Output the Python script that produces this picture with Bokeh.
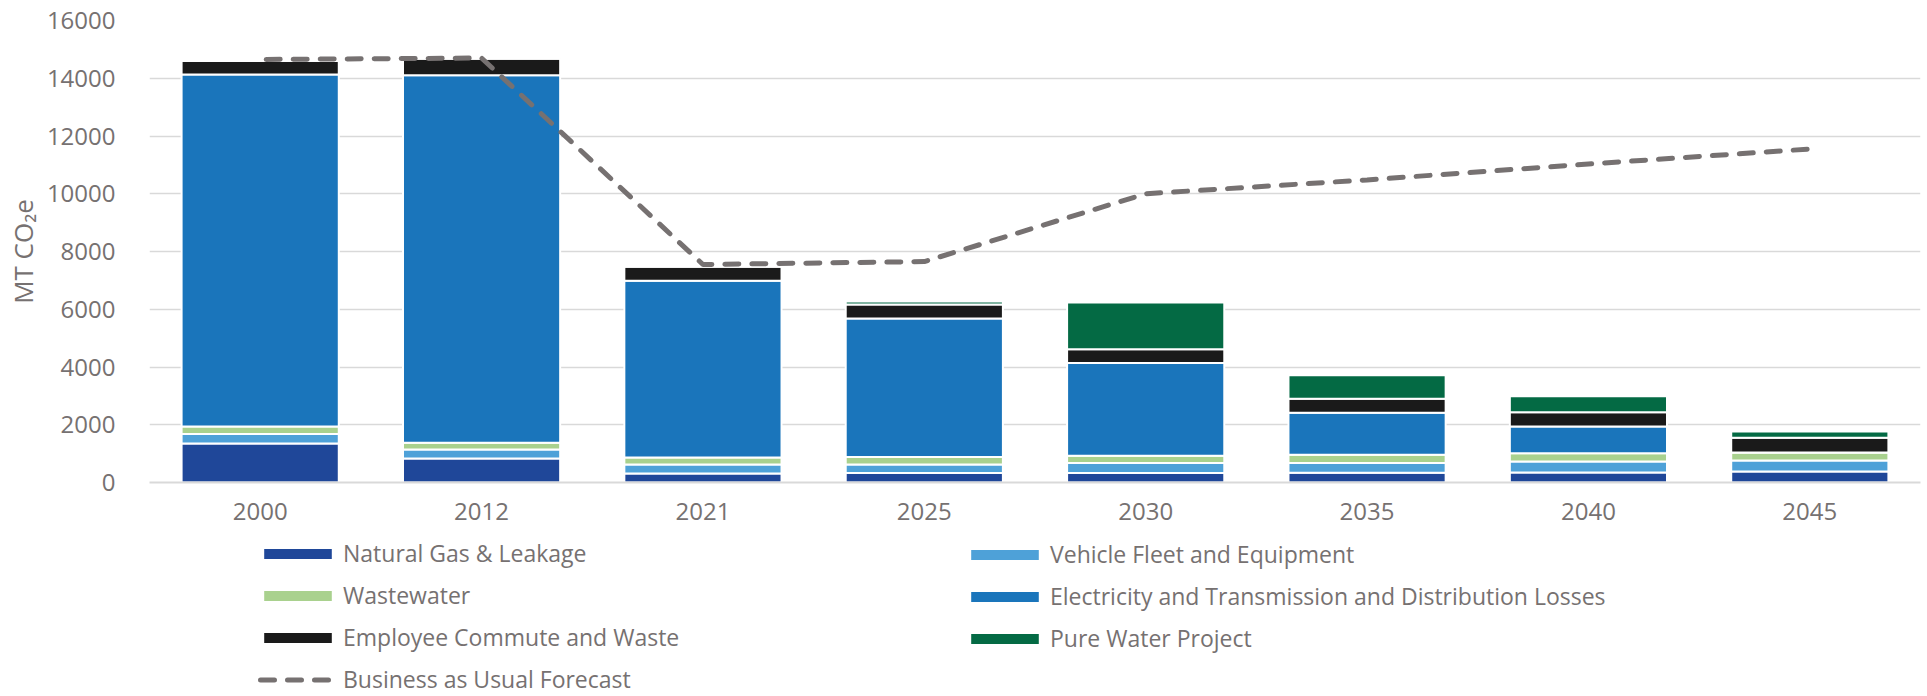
from bokeh.plotting import figure
from bokeh.layouts import column
from bokeh.models import FactorRange, Range1d, Legend, LegendItem, FixedTicker, ColumnDataSource
from bokeh.embed import file_html
from bokeh.resources import INLINE

years = ["2000", "2012", "2021", "2025", "2030", "2035", "2040", "2045"]
natural_gas = [1350, 830, 310, 325, 325, 336, 348, 383]
vehicle_fleet = [330, 315, 312, 300, 347, 336, 382, 382]
wastewater = [260, 231, 243, 255, 256, 290, 279, 278]
electricity = [12187, 12727, 6122, 4800, 3211, 1450, 927, 0]
employee = [474, 568, 485, 487, 475, 487, 499, 511]
pure_water = [0, 0, 0, 104, 1624, 811, 556, 208]
bau_forecast = [14650, 14700, 7550, 7650, 10000, 10480, 11030, 11550]

series_keys = ["natural_gas", "vehicle_fleet", "wastewater", "electricity", "employee", "pure_water"]
series_labels = ["Natural Gas & Leakage", "Vehicle Fleet and Equipment", "Wastewater",
                 "Electricity and Transmission and Distribution Losses",
                 "Employee Commute and Waste", "Pure Water Project"]
bau_label = "Business as Usual Forecast"
series_colors = ["#1f4799", "#4ea1d8", "#a9d18e", "#1a75bb", "#1a1a1a", "#046a44"]
bau_color = "#767171"

FONT = "Open Sans"
TXT = "#767171"
FS_AXIS = "24px"
FS_YLABEL = "26px"
FS_LEG = "23px"

source = ColumnDataSource(data=dict(
    years=years, natural_gas=natural_gas, vehicle_fleet=vehicle_fleet, wastewater=wastewater,
    electricity=electricity, employee=employee, pure_water=pure_water, bau=bau_forecast))

W = 1925
H_MAIN = 528
H_LEG = 167

def add_series(fig):
    bars = fig.vbar_stack(series_keys, x="years", width=0.71, source=source,
                          color=series_colors, line_color="white", line_width=2)
    line = fig.line(x="years", y="bau", source=source, line_color=bau_color, line_width=5,
                    line_dash="14 13", line_dash_offset=21, line_cap="round")
    return bars, line

# ---------------- main chart ----------------
p = figure(x_range=FactorRange(factors=years), y_range=Range1d(0, 16000),
           width=W, height=H_MAIN, output_backend="svg", toolbar_location=None,
           min_border_left=149, min_border_right=5, min_border_top=20, min_border_bottom=46)
p.outline_line_color = None
add_series(p)

p.yaxis.ticker = FixedTicker(ticks=list(range(0, 16001, 2000)))
p.yaxis.axis_line_color = None
p.yaxis.major_tick_line_color = None
p.yaxis.minor_tick_line_color = None
p.yaxis.major_label_text_font = FONT
p.yaxis.major_label_text_font_size = FS_AXIS
p.yaxis.major_label_text_color = TXT
p.yaxis.major_label_standoff = 28
p.yaxis.axis_label = "MT CO₂e"
p.yaxis.axis_label_text_font = FONT
p.yaxis.axis_label_text_font_size = FS_YLABEL
p.yaxis.axis_label_text_font_style = "normal"
p.yaxis.axis_label_text_color = TXT
p.yaxis.axis_label_standoff = 3

p.xaxis.axis_line_color = "#d9d9d9"
p.xaxis.axis_line_width = 2
p.xaxis.major_tick_line_color = None
p.xaxis.minor_tick_line_color = None
p.xaxis.major_label_text_font = FONT
p.xaxis.major_label_text_font_size = FS_AXIS
p.xaxis.major_label_text_color = TXT
p.xaxis.major_label_standoff = 14

p.xgrid.grid_line_color = None
p.ygrid.grid_line_color = "#d9d9d9"
p.ygrid.grid_line_width = 1.5

# ---------------- legend strip ----------------
# same series drawn far out of view, only so that the legend swatches have renderers
q = figure(x_range=FactorRange(factors=years), y_range=Range1d(30000, 40000),
           width=W, height=H_LEG, output_backend="svg", toolbar_location=None,
           min_border_left=0, min_border_right=0, min_border_top=0, min_border_bottom=0)
q.outline_line_color = None
q.axis.visible = False
q.grid.visible = False
q_bars, q_line = add_series(q)

leg_renderers = list(q_bars) + [q_line]
leg_labels = series_labels + [bau_label]
left_idx = [0, 2, 4, 6]
right_idx = [1, 3, 5]

def make_legend(idx, loc):
    return Legend(items=[LegendItem(label=leg_labels[i], renderers=[leg_renderers[i]]) for i in idx],
                  location=loc, orientation="vertical",
                  glyph_width=87, glyph_height=15, label_standoff=2,
                  label_height=31, spacing=10, padding=0, margin=0,
                  border_line_color=None, background_fill_alpha=0,
                  label_text_font=FONT, label_text_font_size=FS_LEG, label_text_color=TXT)

q.add_layout(make_legend(left_idx, (105, 0)))
q.add_layout(make_legend(right_idx, (812, 41)))

layout = column(p, q, spacing=0)
open("out.html", "w").write(file_html(layout, INLINE))
